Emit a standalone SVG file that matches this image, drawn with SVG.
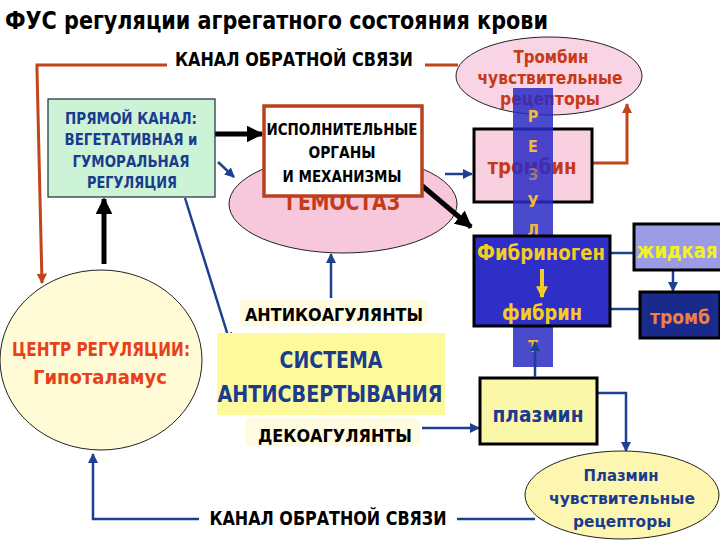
<svg xmlns="http://www.w3.org/2000/svg" width="720" height="540" viewBox="0 0 720 540">
<defs>
<style>
text{font-family:"DejaVu Sans Condensed","Liberation Sans Narrow","Liberation Sans",sans-serif;font-weight:bold;font-stretch:condensed}
.blk{fill:#000}
.dblue{fill:#1b3c8e}
.red{fill:#c63a18}
.yel{fill:#f5cc22}
.ln-red{stroke:#c0441c;stroke-width:3;fill:none}
.ln-blue{stroke:#1f3f8f;stroke-width:2.5;fill:none}
.ln-blk{stroke:#000;stroke-width:5;fill:none}
</style>
<marker id="mBlk" viewBox="0 0 10 10" refX="9" refY="5" markerWidth="3.4" markerHeight="3.4" orient="auto"><path d="M0,0L10,5L0,10z" fill="#000"/></marker>
<marker id="mBlue" viewBox="0 0 10 10" refX="9" refY="5" markerWidth="4" markerHeight="4" orient="auto"><path d="M0,0L10,5L0,10z" fill="#1f3f8f"/></marker>
<marker id="mRed" viewBox="0 0 10 10" refX="9" refY="5" markerWidth="3.5" markerHeight="3.5" orient="auto"><path d="M0,0L10,5L0,10z" fill="#c0441c"/></marker>
<marker id="mYel" viewBox="0 0 10 10" refX="9" refY="5" markerWidth="3" markerHeight="3" orient="auto"><path d="M0,0L10,5L0,10z" fill="#f5cc22"/></marker>
</defs>
<rect width="720" height="540" fill="#fff"/>
<text x="5" y="29" font-size="25" class="blk" textLength="543" lengthAdjust="spacingAndGlyphs">ФУС регуляции агрегатного состояния крови</text>

<g id="labels">
<text x="294" y="66" font-size="19" class="blk" text-anchor="middle" textLength="238" lengthAdjust="spacingAndGlyphs">КАНАЛ ОБРАТНОЙ СВЯЗИ</text>
<text x="328" y="525" font-size="19" class="blk" text-anchor="middle" textLength="237" lengthAdjust="spacingAndGlyphs">КАНАЛ ОБРАТНОЙ СВЯЗИ</text>
</g>

<g id="hemostasis">
<ellipse cx="343" cy="204" rx="114" ry="49" fill="#f7c8dc" stroke="#222" stroke-width="1"/>
<text x="343" y="210" font-size="23" class="red" text-anchor="middle" textLength="114" lengthAdjust="spacingAndGlyphs">ГЕМОСТАЗ</text>
</g>

<g id="connectors">
<polyline class="ln-red" points="167,65 37,65 37,70 42,283" marker-end="url(#mRed)"/>
<line class="ln-red" x1="425" y1="65" x2="458" y2="65"/>
<polyline class="ln-red" points="588,163 627,163 627,104" marker-end="url(#mRed)"/>
<line class="ln-blk" x1="213" y1="134" x2="262" y2="134" marker-end="url(#mBlk)"/>
<line class="ln-blk" x1="104" y1="264" x2="104" y2="199" marker-end="url(#mBlk)"/>
<line class="ln-blk" x1="420" y1="184" x2="471" y2="227" marker-end="url(#mBlk)"/>
<line class="ln-blue" x1="218" y1="162" x2="234" y2="177" marker-end="url(#mBlue)"/>
<line class="ln-blue" x1="185" y1="198" x2="230" y2="342" marker-end="url(#mBlue)"/>
<line class="ln-blue" x1="331" y1="298" x2="331" y2="254" marker-end="url(#mBlue)"/>
<line class="ln-blue" x1="445" y1="174" x2="472" y2="174" marker-end="url(#mBlue)"/>
<line class="ln-blue" x1="422" y1="428" x2="479" y2="428" marker-end="url(#mBlue)"/>
<polyline class="ln-blue" points="199,519 93,519 93,454" marker-end="url(#mBlue)"/>
<line class="ln-blue" x1="457" y1="519" x2="535" y2="519"/>
<line class="ln-blue" x1="610" y1="253" x2="634" y2="253"/>
<line class="ln-blue" x1="610" y1="309" x2="639" y2="309"/>
<line class="ln-blue" x1="673" y1="271" x2="673" y2="291" stroke-width="4" marker-end="url(#mBlue)"/>
<polyline class="ln-blue" points="598,393 626,393 626,451" marker-end="url(#mBlue)"/>
</g>

<g id="direct-channel">
<rect x="48" y="99" width="167" height="98" fill="#ccf3d6" stroke="#1a2a3a" stroke-width="1.2"/>
<text x="131" y="124" font-size="15" class="dblue" text-anchor="middle" textLength="132" lengthAdjust="spacingAndGlyphs">ПРЯМОЙ КАНАЛ:</text>
<text x="131" y="145" font-size="15" class="dblue" text-anchor="middle" textLength="133" lengthAdjust="spacingAndGlyphs">ВЕГЕТАТИВНАЯ и</text>
<text x="131" y="167" font-size="15" class="dblue" text-anchor="middle" textLength="117" lengthAdjust="spacingAndGlyphs">ГУМОРАЛЬНАЯ</text>
<text x="132" y="188" font-size="15" class="dblue" text-anchor="middle" textLength="90" lengthAdjust="spacingAndGlyphs">РЕГУЛЯЦИЯ</text>
</g>

<g id="effectors">
<rect x="264" y="106" width="158" height="90" fill="#fff" stroke="#b8401c" stroke-width="3.5"/>
<text x="342" y="135" font-size="16" class="blk" text-anchor="middle" textLength="151" lengthAdjust="spacingAndGlyphs">ИСПОЛНИТЕЛЬНЫЕ</text>
<text x="342" y="158" font-size="16" class="blk" text-anchor="middle" textLength="67" lengthAdjust="spacingAndGlyphs">ОРГАНЫ</text>
<text x="342" y="182" font-size="16" class="blk" text-anchor="middle" textLength="119" lengthAdjust="spacingAndGlyphs">И МЕХАНИЗМЫ</text>
</g>

<g id="center">
<ellipse cx="101" cy="360" rx="101" ry="90" fill="#fffbd6" stroke="#222" stroke-width="1"/>
<text x="101" y="356" font-size="20" fill="#e8401a" text-anchor="middle" textLength="178" lengthAdjust="spacingAndGlyphs">ЦЕНТР РЕГУЛЯЦИИ:</text>
<text x="100" y="384" font-size="20" fill="#e8401a" text-anchor="middle" textLength="134" lengthAdjust="spacingAndGlyphs">Гипоталамус</text>
</g>

<g id="anticoag-system">
<rect x="240" y="300" width="188" height="26" fill="#fffbe0"/>
<text x="334" y="321" font-size="18" class="blk" text-anchor="middle" textLength="178" lengthAdjust="spacingAndGlyphs">АНТИКОАГУЛЯНТЫ</text>
<rect x="217" y="333" width="228" height="82" fill="#fdfa9c"/>
<text x="331" y="368" font-size="23" class="dblue" text-anchor="middle" textLength="103" lengthAdjust="spacingAndGlyphs">СИСТЕМА</text>
<text x="330" y="402" font-size="23" class="dblue" text-anchor="middle" textLength="225" lengthAdjust="spacingAndGlyphs">АНТИСВЕРТЫВАНИЯ</text>
<rect x="245" y="418" width="175" height="28" fill="#fffbe0"/>
<text x="335" y="442" font-size="18" class="blk" text-anchor="middle" textLength="154" lengthAdjust="spacingAndGlyphs">ДЕКОАГУЛЯНТЫ</text>
</g>

<g id="thrombin-receptors">
<ellipse cx="549" cy="76" rx="93" ry="39" fill="#f9d4e4" stroke="#222" stroke-width="1"/>
<text x="551" y="63" font-size="17" class="red" text-anchor="middle" textLength="75" lengthAdjust="spacingAndGlyphs">Тромбин</text>
<text x="550" y="84" font-size="17" class="red" text-anchor="middle" textLength="145" lengthAdjust="spacingAndGlyphs">чувствительные</text>
<text x="550" y="105" font-size="17" class="red" text-anchor="middle" textLength="100" lengthAdjust="spacingAndGlyphs">рецепторы</text>
</g>

<g id="thrombin">
<rect x="474" y="129" width="118" height="73" fill="#f9d0e0" stroke="#000" stroke-width="3"/>
<text x="532" y="174" font-size="22" class="red" text-anchor="middle" textLength="89" lengthAdjust="spacingAndGlyphs">тромбин</text>
</g>

<g id="result-bar">
<rect x="513" y="88" width="40" height="279" fill="#2a2ac4" fill-opacity="0.85"/>
<g font-size="16" fill="#f2b83a" text-anchor="middle">
<text x="533" y="122">Р</text>
<text x="533" y="152">Е</text>
<text x="533" y="180" fill-opacity="0.5">З</text>
<text x="533" y="207">У</text>
<text x="533" y="236">Л</text>
<text x="533" y="352">Т</text>
</g>
</g>

<g id="fibrinogen">
<rect x="474" y="236" width="136" height="90" fill="#2f2fc8" stroke="#000" stroke-width="3"/>
<text x="541" y="260" font-size="21" class="yel" text-anchor="middle" textLength="128" lengthAdjust="spacingAndGlyphs">Фибриноген</text>
<line x1="542" y1="269" x2="542" y2="297" stroke="#f5cc22" stroke-width="4" marker-end="url(#mYel)"/>
<text x="542" y="320" font-size="21" class="yel" text-anchor="middle" textLength="80" lengthAdjust="spacingAndGlyphs">фибрин</text>
</g>

<g id="liquid">
<rect x="634" y="224" width="88" height="46" fill="#9c9ce6" stroke="#000" stroke-width="3"/>
<text x="677" y="258" font-size="21" fill="#f2f222" text-anchor="middle" textLength="81" lengthAdjust="spacingAndGlyphs">жидкая</text>
</g>

<g id="thrombus">
<rect x="640" y="292" width="80" height="46" fill="#1a2a8a" stroke="#000" stroke-width="3"/>
<text x="680" y="324" font-size="20" fill="#f08040" text-anchor="middle" textLength="60" lengthAdjust="spacingAndGlyphs">тромб</text>
</g>

<g id="plasmin">
<rect x="480" y="378" width="117" height="66" fill="#fbf7a8" stroke="#000" stroke-width="3"/>
<text x="538" y="422" font-size="21" class="dblue" text-anchor="middle" textLength="91" lengthAdjust="spacingAndGlyphs">плазмин</text>
</g>
<line class="ln-blue" x1="535" y1="377" x2="535" y2="342" marker-end="url(#mBlue)"/>

<g id="plasmin-receptors">
<ellipse cx="622" cy="495" rx="97" ry="44" fill="#fcf6b0" stroke="#222" stroke-width="1"/>
<text x="621" y="481" font-size="16" class="dblue" text-anchor="middle" textLength="75" lengthAdjust="spacingAndGlyphs">Плазмин</text>
<text x="622" y="504" font-size="16" class="dblue" text-anchor="middle" textLength="146" lengthAdjust="spacingAndGlyphs">чувствительные</text>
<text x="622" y="527" font-size="16" class="dblue" text-anchor="middle" textLength="98" lengthAdjust="spacingAndGlyphs">рецепторы</text>
</g>
</svg>
